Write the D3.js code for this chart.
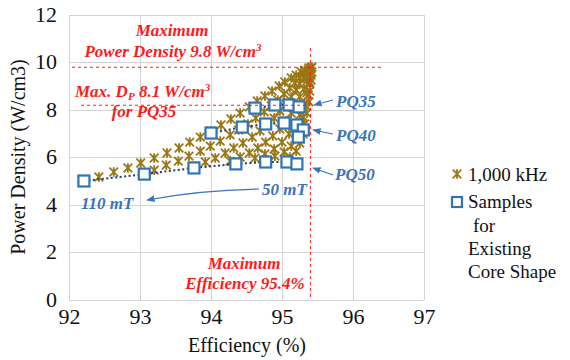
<!DOCTYPE html>
<html>
<head>
<meta charset="utf-8">
<script src="https://cdn.jsdelivr.net/npm/d3@7"></script>
<style>
  body { margin: 0; background: #fff; }
</style>
</head>
<body>
<svg id="chart" width="570" height="360"></svg>
<script>
// ticks
const xTicks = [92, 93, 94, 95, 96, 97];
const yTicks = [0, 2, 4, 6, 8, 10, 12];

// 1,000 kHz design sweep (efficiency %, power density W/cm3), one array per curve
const sweep1 = [[92.42,5.18],[92.63,5.39],[92.83,5.56],[93.01,5.77],[93.20,5.98],[93.38,6.19],[93.55,6.40],[93.70,6.65],[93.85,6.86],[94.00,7.12],[94.14,7.37],[94.28,7.62],[94.41,7.87],[94.54,8.13],[94.65,8.38],[94.76,8.59],[94.86,8.80],[94.96,9.01],[95.04,9.18],[95.13,9.35],[95.20,9.47],[95.27,9.60],[95.32,9.68],[95.38,9.77],[95.42,9.81]];
const sweep2 = [[93.20,5.47],[93.37,5.68],[93.54,5.85],[93.69,6.06],[93.85,6.27],[93.99,6.48],[94.13,6.69],[94.27,6.95],[94.39,7.16],[94.52,7.41],[94.63,7.66],[94.75,7.92],[94.85,8.17],[94.94,8.42],[95.03,8.67],[95.11,8.93],[95.18,9.14],[95.25,9.35],[95.31,9.52],[95.37,9.68],[95.41,9.77]];
const sweep3 = [[93.77,5.64],[93.92,5.81],[94.06,5.98],[94.20,6.19],[94.32,6.40],[94.45,6.61],[94.58,6.86],[94.69,7.12],[94.79,7.37],[94.89,7.66],[94.97,7.96],[95.06,8.25],[95.13,8.55],[95.20,8.84],[95.25,9.09],[95.31,9.35],[95.37,9.60],[95.41,9.77]];
const sweep4 = [[94.27,5.85],[94.41,6.02],[94.54,6.19],[94.66,6.40],[94.77,6.65],[94.87,6.91],[94.97,7.20],[95.06,7.54],[95.13,7.87],[95.20,8.21],[95.25,8.55],[95.31,8.88],[95.35,9.22],[95.39,9.56]];
const sweep5 = [[94.62,5.98],[94.76,6.15],[94.89,6.36],[95.00,6.65],[95.10,6.99],[95.18,7.37],[95.25,7.79],[95.31,8.25],[95.35,8.72],[95.39,9.18],[95.42,9.60]];
const sweep6 = [[94.90,6.06],[95.03,6.23],[95.13,6.48],[95.20,6.82],[95.25,7.24],[95.30,7.71],[95.34,8.17],[95.37,8.63],[95.39,9.09],[95.41,9.47]];
const sweep7 = [[95.11,6.02],[95.20,6.27],[95.25,6.61],[95.30,6.99],[95.32,7.41],[95.35,7.87],[95.38,8.34],[95.39,8.80],[95.41,9.26]];
const sweeps = [sweep1, sweep2, sweep3, sweep4, sweep5, sweep6, sweep7];

// samples for existing core shapes, 110 mT -> 50 mT
const pq35 = [[94.62,8.08],[94.90,8.21],[95.10,8.21],[95.24,8.13]];
const pq40 = [[94.00,7.03],[94.44,7.28],[94.77,7.41],[95.03,7.45],[95.21,7.37],[95.30,7.16],[95.23,6.86]];
const pq50 = [[92.21,5.01],[93.06,5.30],[93.76,5.56],[94.35,5.73],[94.77,5.81],[95.07,5.81],[95.21,5.73]];

const maxEff = 95.4, maxPd = 9.8, maxPdPq35 = 8.2;

const svg = d3.select('#chart');
const x = d3.scaleLinear().domain([92, 97]).range([69, 424]);
const y = d3.scaleLinear().domain([0, 12]).range([300, 15]);

const serif = 'Liberation Serif, Times New Roman, serif';
const red = '#ff1a1a', blue = '#3c73bd', gold = '#9a7614', sqBlue = '#2e75b6';

// grid
svg.append('g').selectAll('line').data(xTicks).enter().append('line')
  .attr('x1', d => x(d)).attr('x2', d => x(d)).attr('y1', y(0)).attr('y2', y(12))
  .attr('stroke', '#d4d4d4').attr('shape-rendering', 'crispEdges');
svg.append('g').selectAll('line').data(yTicks).enter().append('line')
  .attr('y1', d => y(d)).attr('y2', d => y(d)).attr('x1', x(92)).attr('x2', x(97))
  .attr('stroke', '#d4d4d4').attr('shape-rendering', 'crispEdges');

// axes
const xAxis = svg.append('g').attr('transform', 'translate(0,' + y(0) + ')')
  .call(d3.axisBottom(x).tickValues(xTicks).tickFormat(d3.format('d')).tickSize(0).tickPadding(8));
const yAxis = svg.append('g').attr('transform', 'translate(' + x(92) + ',0)')
  .call(d3.axisLeft(y).tickValues(yTicks).tickFormat(d3.format('d')).tickSize(0).tickPadding(12));
[xAxis, yAxis].forEach(a => {
  a.attr('font-family', serif).attr('font-size', 22);
  a.select('.domain').remove();
  a.selectAll('text').attr('fill', '#111');
});
yAxis.selectAll('text').attr('dy', '0.28em');

svg.append('text').attr('x', 247).attr('y', 352).attr('text-anchor', 'middle')
  .attr('font-family', serif).attr('font-size', 20).attr('fill', '#111').text('Efficiency (%)');
svg.append('text').attr('transform', 'translate(25,157) rotate(-90)').attr('text-anchor', 'middle')
  .attr('font-family', serif).attr('font-size', 20).attr('fill', '#111').text('Power Density (W/cm3)');

// star marker
const star = 'M-4.3,-4.3L4.3,4.3M-4.3,4.3L4.3,-4.3M0,-4.8L0,4.8';

svg.append('g').selectAll('path').data(sweeps.flat()).enter().append('path')
  .attr('d', star).attr('transform', d => 'translate(' + x(d[0]) + ',' + y(d[1]) + ')')
  .attr('stroke', gold).attr('stroke-width', 1.8).attr('fill', 'none');

// sample rows
const line = d3.line().x(d => x(d[0])).y(d => y(d[1]));
[pq35, pq40, pq50].forEach(row => {
  svg.append('path').attr('d', line(row)).attr('fill', 'none')
    .attr('stroke', '#1f3b78').attr('stroke-width', 2).attr('stroke-dasharray', '2,2.5');
});
svg.append('g').selectAll('rect').data(pq35.concat(pq40, pq50)).enter().append('rect')
  .attr('x', d => x(d[0]) - 5.5).attr('y', d => y(d[1]) - 5.5)
  .attr('width', 11).attr('height', 11)
  .attr('fill', '#fff').attr('stroke', sqBlue).attr('stroke-width', 2.2);

// red reference lines
svg.append('line').attr('x1', x(92) + 3).attr('x2', 383).attr('y1', y(maxPd)).attr('y2', y(maxPd))
  .attr('stroke', red).attr('stroke-dasharray', '3,3');
svg.append('line').attr('x1', 81).attr('x2', x(maxEff)).attr('y1', y(maxPdPq35)).attr('y2', y(maxPdPq35))
  .attr('stroke', red).attr('stroke-dasharray', '3,3');
svg.append('line').attr('x1', x(maxEff)).attr('x2', x(maxEff)).attr('y1', 48).attr('y2', y(0))
  .attr('stroke', red).attr('stroke-dasharray', '3,3');

// red annotations
function redText(tx, ty, anchor) {
  return svg.append('text').attr('x', tx).attr('y', ty).attr('text-anchor', anchor)
    .attr('font-family', serif).attr('font-size', 17).attr('font-weight', 'bold')
    .attr('font-style', 'italic').attr('fill', red);
}
redText(172, 36, 'middle').text('Maximum');
const t2 = redText(173, 57, 'middle');
t2.append('tspan').text('Power Density 9.8 W/cm');
t2.append('tspan').attr('font-size', 11).attr('dy', -6).text('3');
const t3 = redText(75, 97, 'start');
t3.append('tspan').text('Max. D');
t3.append('tspan').attr('font-size', 11).attr('dy', 3).text('P');
t3.append('tspan').attr('dy', -3).text(' 8.1 W/cm');
t3.append('tspan').attr('font-size', 11).attr('dy', -6).text('3');
redText(144, 117, 'middle').text('for PQ35');
redText(244, 269, 'middle').text('Maximum');
redText(245, 289, 'middle').text('Efficiency 95.4%');

// blue annotations
svg.append('defs').append('marker').attr('id', 'ah').attr('viewBox', '0 0 10 10')
  .attr('refX', 9).attr('refY', 5).attr('markerWidth', 7).attr('markerHeight', 7)
  .attr('orient', 'auto').append('path').attr('d', 'M0,1L10,5L0,9Z').attr('fill', blue);

function blueText(tx, ty, s) {
  svg.append('text').attr('x', tx).attr('y', ty).attr('font-family', serif).attr('font-size', 17)
    .attr('font-weight', 'bold').attr('font-style', 'italic').attr('fill', blue).text(s);
}
function arrow(d) {
  svg.append('path').attr('d', d).attr('fill', 'none').attr('stroke', blue)
    .attr('stroke-width', 1.2).attr('marker-end', 'url(#ah)');
}
blueText(336, 107, 'PQ35'); arrow('M333,100L314,105');
blueText(336, 141, 'PQ40'); arrow('M333,134L313,130');
blueText(335, 180, 'PQ50'); arrow('M333,175L313,168');
blueText(262, 195, '50 mT');
blueText(81, 209, '110 mT');
arrow('M259,189Q200,190 147,200');

// legend
svg.append('path').attr('d', star).attr('transform', 'translate(457,174)')
  .attr('stroke', gold).attr('stroke-width', 1.8).attr('fill', 'none');
svg.append('rect').attr('x', 452).attr('y', 197).attr('width', 10).attr('height', 10)
  .attr('fill', '#fff').attr('stroke', sqBlue).attr('stroke-width', 2.2);
const legendLines = [['1,000 kHz', 468, 181], ['Samples', 468, 208], ['for', 473, 232], ['Existing', 468, 255], ['Core Shape', 468, 278]];
svg.append('g').selectAll('text').data(legendLines).enter().append('text')
  .attr('x', d => d[1]).attr('y', d => d[2]).attr('font-family', serif)
  .attr('font-size', 19).attr('fill', '#111').text(d => d[0]);
</script>
</body>
</html>
